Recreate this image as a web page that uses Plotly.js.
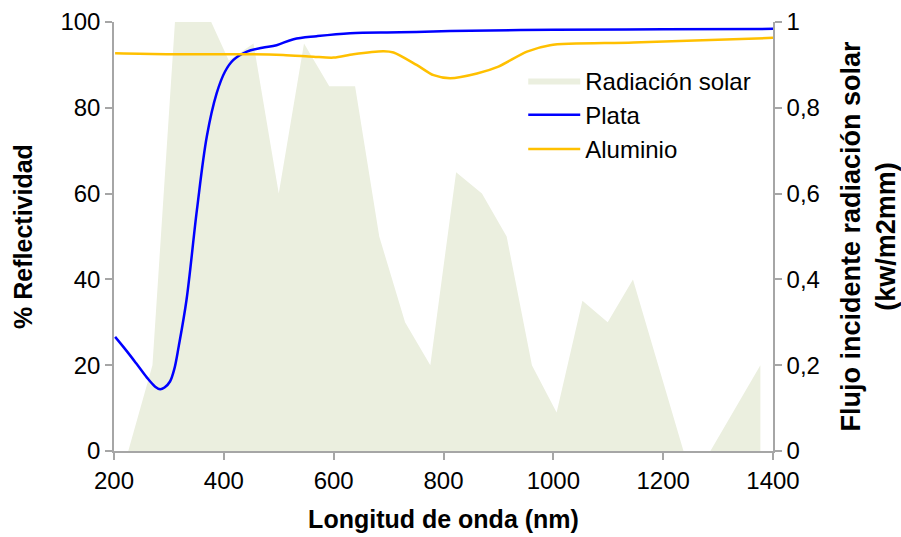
<!DOCTYPE html>
<html>
<head>
<meta charset="utf-8">
<script src="https://cdn.plot.ly/plotly-3.0.1.min.js"></script>
<style>
  html, body { margin: 0; padding: 0; background: #ffffff; }
  #chart { width: 901px; height: 537px; }
</style>
</head>
<body>
<div id="chart"></div>
<script>
// Solar radiation (right axis, kw/m2mm)
const radWavelength = [226, 270, 311, 377, 409, 454, 500, 546, 592, 639, 683, 730, 776, 823, 870, 915, 961, 1006, 1053, 1099, 1145, 1191, 1237, 1286, 1377];
const radFlux       = [0,   0.2, 1.0, 1.0, 0.91, 0.95, 0.6, 0.95, 0.85, 0.85, 0.5, 0.3, 0.2, 0.65, 0.6, 0.5, 0.2, 0.09, 0.35, 0.3, 0.4, 0.2, 0, 0, 0.2];

// Silver reflectivity (left axis, %)
const plataWavelength = [202, 220, 240, 260, 275, 284, 292, 302, 310, 318, 332, 351, 369, 387, 402, 417, 442, 470, 496, 527, 569, 630, 721, 812, 1000, 1200, 1400];
const plataReflect    = [26.6, 23.8, 20.5, 17.1, 15.0, 14.4, 14.8, 16.2, 19.2, 24.5, 35.2, 56.2, 73.3, 83.4, 88.4, 91.1, 93.1, 94.0, 94.6, 96.0, 96.7, 97.4, 97.6, 97.9, 98.2, 98.3, 98.4];

// Aluminium reflectivity (left axis, %)
const aluWavelength = [202, 296, 450, 508, 563, 600, 636, 691, 709, 751, 782, 812, 861, 900, 952, 994, 1146, 1400];
const aluReflect    = [92.7, 92.5, 92.5, 92.3, 91.9, 91.7, 92.5, 93.2, 92.9, 90.0, 87.6, 86.9, 88.0, 89.6, 93.1, 94.6, 95.2, 96.3];

const xTicks = [200, 400, 600, 800, 1000, 1200, 1400];

const FONT = 'Liberation Sans, Arial, sans-serif';
const AXIS_GREY = '#A6A6A6';

const traces = [
  {
    name: 'Radiación solar',
    x: radWavelength, y: radFlux,
    type: 'scatter', mode: 'lines',
    fill: 'tozeroy', fillcolor: '#EBEFDF',
    line: { width: 0, color: '#EBEFDF' },
    xaxis: 'x', yaxis: 'y',
    hoverinfo: 'skip'
  },
  {
    name: 'Plata',
    x: plataWavelength, y: plataReflect,
    type: 'scatter', mode: 'lines',
    line: { color: '#0000FF', width: 2.5, shape: 'spline', smoothing: 1 },
    xaxis: 'x', yaxis: 'y2'
  },
  {
    name: 'Aluminio',
    x: aluWavelength, y: aluReflect,
    type: 'scatter', mode: 'lines',
    line: { color: '#FFC000', width: 2.5, shape: 'spline', smoothing: 0.8 },
    xaxis: 'x', yaxis: 'y2'
  }
];

const axisCommon = {
  showline: true, linecolor: AXIS_GREY, linewidth: 1.5,
  ticks: 'outside', ticklen: 7, tickwidth: 1.5, tickcolor: AXIS_GREY,
  showgrid: false, zeroline: false,
  tickfont: { family: FONT, size: 24, color: '#000' }
};

const layout = {
  width: 901, height: 537,
  margin: { l: 114, r: 128, t: 22, b: 86 },
  paper_bgcolor: '#ffffff', plot_bgcolor: 'rgba(0,0,0,0)',
  separators: ',.',
  font: { family: FONT, color: '#000' },
  showlegend: true,
  legend: {
    x: 0.621, y: 0.915, xanchor: 'left', yanchor: 'top',
    bgcolor: 'rgba(0,0,0,0)',
    font: { family: FONT, size: 24, color: '#000' },
    itemwidth: 52
  },
  xaxis: Object.assign({}, axisCommon, {
    range: [200, 1400], tickvals: xTicks, ticktext: xTicks.map(String),
    title: { text: 'Longitud de onda (nm)', standoff: 18,
             font: { family: FONT, size: 25, weight: 'bold', color: '#000' } }
  }),
  yaxis: Object.assign({}, axisCommon, {
    side: 'right', range: [0, 1], tick0: 0, dtick: 0.2,
    title: { text: 'Flujo incidente radiación solar<br>(kw/m2mm)', standoff: 26,
             font: { family: FONT, size: 27, weight: 'bold', color: '#000' } }
  }),
  yaxis2: Object.assign({}, axisCommon, {
    overlaying: 'y', side: 'left', range: [0, 100], tick0: 0, dtick: 20,
    title: { text: '% Reflectividad', standoff: 21,
             font: { family: FONT, size: 25, weight: 'bold', color: '#000' } }
  })
};

Plotly.newPlot('chart', traces, layout, { displayModeBar: false, responsive: false });
</script>
</body>
</html>
